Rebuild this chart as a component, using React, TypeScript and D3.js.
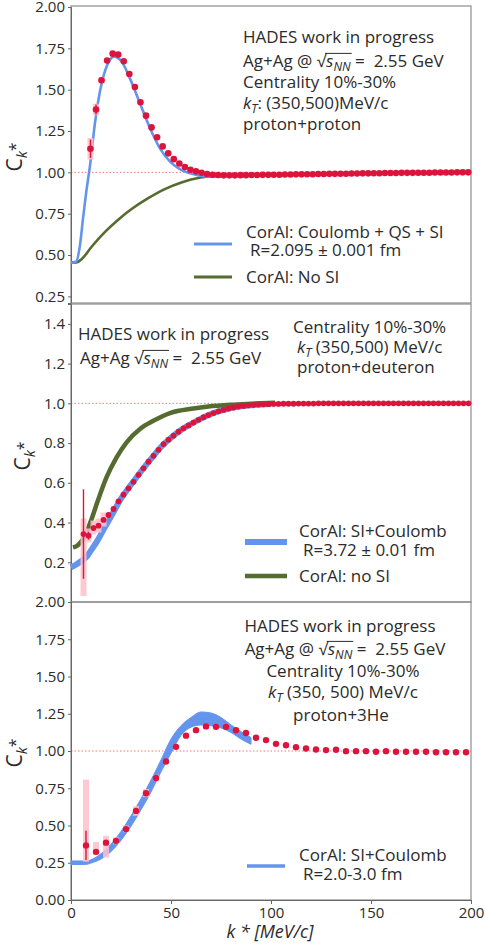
import * as d3 from "d3";
import { useEffect, useRef } from "react";

const W = 485;
const H = 946;
const FONT = "'Open Sans', 'Noto Sans', 'DejaVu Sans', sans-serif";
const RED = "#dc143c";
const BLUE = "#6495ed";
const GREEN = "#556b2f";
const PINK = "#ffbfca";
const INK = "#2b2b2b";
const TXT = 17;

const kTicks = [0, 50, 100, 150, 200];

// ---- proton+proton (bins of 200/72 MeV/c, first filled bin is #3)
const ppBinWidth = 200 / 72;
const ppFirstBin = 3;
const ppC = [
  1.143, 1.38, 1.557, 1.676, 1.718, 1.712, 1.672, 1.595, 1.516, 1.424,
  1.343, 1.272, 1.212, 1.157, 1.115, 1.08, 1.054, 1.032, 1.016, 1.006,
  0.998, 0.99, 0.986, 0.984, 0.982, 0.982, 0.982, 0.983, 0.983, 0.984,
  0.984, 0.985, 0.985, 0.986, 0.986, 0.987, 0.987, 0.988, 0.988, 0.989,
  0.989, 0.99, 0.99, 0.991, 0.991, 0.992, 0.992, 0.993, 0.993, 0.994,
  0.994, 0.995, 0.995, 0.996, 0.996, 0.996, 0.997, 0.997, 0.997, 0.998,
  0.998, 0.998, 0.999, 0.999, 0.999, 0.999, 1.0, 1.0, 1.0,
];
const ppStat = [0.055, 0.03, 0.02, 0.015];
const ppSys = [0.065, 0.035, 0.02];
const ppBlueK = [0, 2.5, 4.5, 6, 7.5, 9.5, 12, 14.5, 17.8, 21.6, 25.3, 29.4, 34.4, 39.4, 44.4, 49.4, 54.4, 60.9, 67.8, 80, 100];
const ppBlueC = [0.455, 0.46, 0.56, 0.72, 0.87, 1.04, 1.3, 1.49, 1.64, 1.7, 1.67, 1.57, 1.42, 1.27, 1.147, 1.067, 1.02, 0.99, 0.976, 0.978, 0.985];
const ppGreenK = [0, 2.8, 5.3, 10.3, 17, 23.6, 30.3, 38.6, 46.9, 55.2, 63.5, 70.2, 85, 100];
const ppGreenC = [0.455, 0.455, 0.475, 0.55, 0.64, 0.714, 0.778, 0.844, 0.899, 0.939, 0.966, 0.976, 0.985, 0.99];

// ---- proton+deuteron (bins of 2.5 MeV/c)
const pdBinWidth = 2.5;
const pdFirstCenter = 6.25;
const pdC = [
  0.342, 0.334, 0.372, 0.384, 0.413, 0.438, 0.468, 0.507, 0.54, 0.572,
  0.605, 0.64, 0.673, 0.706, 0.736, 0.766, 0.795, 0.817, 0.837, 0.857,
  0.874, 0.889, 0.903, 0.917, 0.93, 0.941, 0.951, 0.96, 0.967, 0.974,
  0.979, 0.984, 0.987, 0.99, 0.992, 0.994, 0.995, 0.996, 0.997, 0.997,
  0.998, 0.998, 0.998, 0.999, 0.999, 0.999, 0.999, 1.0, 1.0, 1.0,
  1.0, 1.0, 1.0, 1.0, 1.0, 1.0, 1.0, 1.0, 1.0, 1.0,
  1.0, 1.0, 1.0, 1.0, 1.0, 1.0, 1.0, 1.0, 1.0, 1.0,
  1.0, 1.0, 1.0, 1.0, 1.0, 1.0, 1.0, 1.0,
];
const pdStat = [0.225, 0.02, 0.015, 0.012];
const pdSysLo = [0.03, 0.3, 0.34, 0.35, 0.38];
const pdSysHi = [0.42, 0.37, 0.41, 0.42, 0.45];
const pdBlueK = [0, 2, 5, 8, 10, 13, 16, 20, 25, 30, 35, 40, 45, 50, 55, 60, 65, 70, 75, 80, 85, 90, 95, 100];
const pdBlueC = [0.175, 0.185, 0.205, 0.23, 0.26, 0.305, 0.36, 0.43, 0.52, 0.59, 0.657, 0.72, 0.78, 0.827, 0.866, 0.896, 0.923, 0.946, 0.963, 0.976, 0.985, 0.99, 0.994, 0.997];
const pdGreenK = [1, 3, 7, 10.3, 13.7, 17.8, 22.8, 27.8, 34.5, 41.2, 49.5, 61.2, 68.7, 80, 90, 102];
const pdGreenC = [0.275, 0.283, 0.334, 0.418, 0.518, 0.628, 0.728, 0.804, 0.871, 0.912, 0.951, 0.974, 0.984, 0.993, 0.998, 1.003];

// ---- proton+3He (bins of 5 MeV/c)
const heBinWidth = 5;
const heFirstCenter = 7.5;
const heC = [
  0.366, 0.323, 0.385, 0.397, 0.476, 0.598, 0.716, 0.819, 0.93, 1.028,
  1.103, 1.14, 1.165, 1.162, 1.162, 1.139, 1.121, 1.089, 1.073, 1.048,
  1.039, 1.026, 1.017, 1.01, 1.006, 1.008, 0.999, 0.999, 0.999, 0.995,
  0.999, 0.995, 0.995, 0.995, 0.995, 0.992, 0.992, 0.992, 0.992,
];
const heStat = [0.098, 0.015, 0.015, 0.012];
const heSysLo = [0.257, 0.303, 0.285, 0.375, 0.455, 0.565, 0.69, 0.8];
const heSysHi = [0.808, 0.389, 0.431, 0.42, 0.5, 0.63, 0.745, 0.84];
const heBandK = [0, 5, 8, 10, 15, 20, 25, 30, 35, 40, 45, 50, 55, 60, 65, 70, 75, 80, 85, 90];
const heBandHi = [0.262, 0.262, 0.262, 0.27, 0.31, 0.375, 0.46, 0.565, 0.68, 0.805, 0.94, 1.08, 1.17, 1.225, 1.262, 1.255, 1.225, 1.175, 1.13, 1.09];
const heBandLo = [0.238, 0.238, 0.24, 0.248, 0.275, 0.325, 0.4, 0.495, 0.605, 0.725, 0.86, 0.985, 1.105, 1.16, 1.175, 1.17, 1.155, 1.125, 1.08, 1.045];

type Part = { t: string; it?: boolean; shift?: number; scale?: number; rad?: boolean };
type Sel = d3.Selection<any, unknown, null, undefined>;

function rich(g: Sel, x: number, y: number, parts: Part[], size = TXT, anchor = "start") {
  const text = g
    .append("text")
    .attr("x", x)
    .attr("y", y)
    .attr("text-anchor", anchor)
    .attr("fill", INK)
    .style("font-size", `${size}px`)
    .style("white-space", "pre");
  let cur = 0;
  parts.forEach((p) => {
    const target = (p.shift || 0) * size;
    const span = text.append("tspan").attr("dy", target - cur).text(p.t);
    cur = target;
    if (p.it) span.style("font-style", "italic");
    if (p.scale) span.style("font-size", `${size * p.scale}px`);
    if (p.rad) span.classed("rad", true);
  });
  // overline for the square root
  const rads = text.selectAll<SVGTSpanElement, unknown>("tspan.rad").nodes();
  if (rads.length) {
    const a = rads[0];
    const b = rads[rads.length - 1];
    const x0 = a.getStartPositionOfChar(0).x;
    const x1 = b.getEndPositionOfChar(b.getNumberOfChars() - 1).x;
    g.append("line")
      .attr("x1", x0 - 1)
      .attr("x2", x1 + 1)
      .attr("y1", y - size * 0.8)
      .attr("y2", y - size * 0.8)
      .attr("stroke", INK)
      .attr("stroke-width", 1);
  }
  return text;
}

const sqrtLine = (prefix: string): Part[] => [
  { t: prefix },
  { t: "√" },
  { t: "s", it: true, rad: true },
  { t: "NN", it: true, shift: 0.25, scale: 0.72, rad: true },
  { t: " =  2.55 GeV", shift: 0 },
];
const kT = (rest: string): Part[] => [
  { t: "k", it: true },
  { t: "T", it: true, shift: 0.25, scale: 0.72 },
  { t: rest, shift: 0 },
];

const x = d3.scaleLinear().domain([0, 200]).range([71, 471]);

interface PanelSpec {
  y: d3.ScaleLinear<number, number>;
  top: number;
  bottom: number;
  ticks: number[];
  fmt: string;
  label: [number, number];
}

function drawPanel(svg: Sel, p: PanelSpec) {
  const g = svg.append("g");
  // reference line at 1
  g.append("line")
    .attr("x1", x(0))
    .attr("x2", x(200))
    .attr("y1", p.y(1))
    .attr("y2", p.y(1))
    .attr("stroke", "#f27a7a")
    .attr("stroke-width", 1)
    .attr("stroke-dasharray", "1.5,2");

  // frame
  g.append("rect")
    .attr("x", x(0))
    .attr("y", p.top)
    .attr("width", x(200) - x(0))
    .attr("height", p.bottom - p.top)
    .attr("fill", "none")
    .attr("stroke", "#8c8c8c")
    .attr("stroke-width", 1.2);

  const ax = g
    .append("g")
    .attr("transform", `translate(${x(0)},0)`)
    .call(d3.axisLeft(p.y).tickValues(p.ticks).tickFormat(d3.format(p.fmt)).tickSize(3).tickPadding(3));
  ax.select(".domain").attr("stroke", "#666");
  ax.selectAll("line").attr("stroke", "#666");
  ax.selectAll("text").attr("fill", INK).style("font-size", "15px").style("font-family", FONT);

  // y label
  const lab = svg.append("g").attr("transform", `translate(${p.label[0]},${p.label[1]}) rotate(-90)`);
  rich(
    lab,
    0,
    6,
    [
      { t: "C" },
      { t: "k", it: true, shift: 0.22, scale: 0.7 },
      { t: "*", shift: -0.05, scale: 0.75 },
    ],
    21,
    "middle"
  );
  return g;
}

function drawData(
  g: Sel,
  y: d3.ScaleLinear<number, number>,
  k: number[],
  c: number[],
  stat: number[],
  sysLo: number[],
  sysHi: number[],
  r: number
) {
  const boxes = sysLo.map((lo, i) => ({ k: k[i], lo, hi: sysHi[i] }));
  g.append("g")
    .selectAll("rect")
    .data(boxes)
    .join("rect")
    .attr("x", (d) => x(d.k) - 3)
    .attr("width", 6)
    .attr("y", (d) => y(d.hi))
    .attr("height", (d) => y(d.lo) - y(d.hi))
    .attr("fill", PINK)
    .attr("opacity", 0.85);
  g.append("g")
    .selectAll("line")
    .data(stat.map((e, i) => ({ k: k[i], v: c[i], e })))
    .join("line")
    .attr("x1", (d) => x(d.k))
    .attr("x2", (d) => x(d.k))
    .attr("y1", (d) => y(d.v - d.e))
    .attr("y2", (d) => y(d.v + d.e))
    .attr("stroke", RED)
    .attr("stroke-width", 1.4);
  g.append("g")
    .selectAll("circle")
    .data(c.map((v, i) => ({ k: k[i], v })))
    .join("circle")
    .attr("cx", (d) => x(d.k))
    .attr("cy", (d) => y(d.v))
    .attr("r", r)
    .attr("fill", RED);
}

function curve(g: Sel, y: d3.ScaleLinear<number, number>, k: number[], c: number[], color: string, width: number) {
  const line = d3
    .line<number>()
    .x((_, i) => x(k[i]))
    .y((v) => y(v))
    .curve(d3.curveMonotoneX);
  g.append("path").attr("d", line(c)).attr("fill", "none").attr("stroke", color).attr("stroke-width", width);
}

function legendLine(g: Sel, x1: number, x2: number, yy: number, color: string, width: number) {
  g.append("line").attr("x1", x1).attr("x2", x2).attr("y1", yy).attr("y2", yy).attr("stroke", color).attr("stroke-width", width);
}

function draw(svg: Sel) {
  svg.append("rect").attr("width", W).attr("height", H).attr("fill", "#fff");

  // ===== panel 1 : p+p
  const y1 = d3.scaleLinear().domain([0.21, 2.0]).range([303, 7]);
  const g1 = drawPanel(svg, { y: y1, top: 6, bottom: 303, ticks: [0.25, 0.5, 0.75, 1, 1.25, 1.5, 1.75, 2], fmt: ".2f", label: [16, 157] });
  curve(g1, y1, ppGreenK, ppGreenC, GREEN, 2.6);
  curve(g1, y1, ppBlueK, ppBlueC, BLUE, 2.6);
  const ppK = ppC.map((_, i) => (i + ppFirstBin + 0.5) * ppBinWidth);
  drawData(
    g1,
    y1,
    ppK,
    ppC,
    ppStat,
    ppSys.map((s, i) => ppC[i] - s),
    ppSys.map((s, i) => ppC[i] + s),
    3.3
  );
  rich(g1, 243, 43, [{ t: "HADES work in progress" }]);
  rich(g1, 243, 67, sqrtLine("Ag+Ag @ "));
  rich(g1, 243, 88, [{ t: "Centrality 10%-30%" }]);
  rich(g1, 243, 109, kT(": (350,500)MeV/c"));
  rich(g1, 243, 130, [{ t: "proton+proton" }]);
  legendLine(g1, 194, 232, 244, BLUE, 3);
  rich(g1, 246, 238, [{ t: "CorAl: Coulomb + QS + SI" }]);
  rich(g1, 250, 256, [{ t: "R=2.095 ± 0.001 fm" }]);
  legendLine(g1, 194, 232, 277, GREEN, 3);
  rich(g1, 246, 283, [{ t: "CorAl: No SI" }]);

  // ===== panel 2 : p+d
  const y2 = d3.scaleLinear().domain([0, 1.5]).range([602, 304]);
  const g2 = drawPanel(svg, { y: y2, top: 304, bottom: 602, ticks: [0.2, 0.4, 0.6, 0.8, 1.0, 1.2, 1.4], fmt: ".1f", label: [24, 456] });
  curve(g2, y2, pdBlueK, pdBlueC, BLUE, 6);
  curve(g2, y2, pdGreenK, pdGreenC, GREEN, 4.5);
  const pdK = pdC.map((_, i) => pdFirstCenter + i * pdBinWidth);
  drawData(g2, y2, pdK, pdC, pdStat, pdSysLo, pdSysHi, 2.9);
  rich(g2, 78, 340, [{ t: "HADES work in progress" }]);
  rich(g2, 80, 364, sqrtLine("Ag+Ag "));
  rich(g2, 293, 333, [{ t: "Centrality 10%-30%" }]);
  rich(g2, 297, 353, kT(" (350,500) MeV/c"));
  rich(g2, 297, 373, [{ t: "proton+deuteron" }]);
  legendLine(g2, 245, 287, 542, BLUE, 6);
  rich(g2, 299, 537, [{ t: "CorAl: SI+Coulomb" }]);
  rich(g2, 303, 556, [{ t: "R=3.72 ± 0.01 fm" }]);
  legendLine(g2, 245, 287, 576, GREEN, 4.5);
  rich(g2, 299, 582, [{ t: "CorAl: no SI" }]);

  // ===== panel 3 : p+3He
  const y3 = d3.scaleLinear().domain([0, 2]).range([900, 602]);
  const g3 = drawPanel(svg, { y: y3, top: 602, bottom: 900, ticks: [0, 0.25, 0.5, 0.75, 1, 1.25, 1.5, 1.75, 2], fmt: ".2f", label: [16, 753] });
  const band = d3
    .area<number>()
    .x((_, i) => x(heBandK[i]))
    .y0((_, i) => y3(heBandLo[i]))
    .y1((v) => y3(v))
    .curve(d3.curveMonotoneX);
  g3.append("path").attr("d", band(heBandHi)).attr("fill", BLUE).attr("stroke", BLUE).attr("stroke-width", 1);
  const heK = heC.map((_, i) => heFirstCenter + i * heBinWidth);
  drawData(g3, y3, heK, heC, heStat, heSysLo, heSysHi, 3.2);
  rich(g3, 340, 632, [{ t: "HADES work in progress" }], TXT, "middle");
  rich(g3, 345, 655, sqrtLine("Ag+Ag @ "), TXT, "middle");
  rich(g3, 343, 677, [{ t: "Centrality 10%-30%" }], TXT, "middle");
  rich(g3, 343, 698, kT(" (350, 500) MeV/c"), TXT, "middle");
  rich(g3, 341, 721, [{ t: "proton+3He" }], TXT, "middle");
  legendLine(g3, 247, 285, 866, BLUE, 3.5);
  rich(g3, 299, 861, [{ t: "CorAl: SI+Coulomb" }]);
  rich(g3, 303, 880, [{ t: "R=2.0-3.0 fm" }]);

  // x axis
  const xa = g3
    .append("g")
    .attr("transform", `translate(0,900)`)
    .call(d3.axisBottom(x).tickValues(kTicks).tickFormat(d3.format("d")).tickSize(4).tickPadding(3));
  xa.select(".domain").attr("stroke", "#666");
  xa.selectAll("line").attr("stroke", "#666");
  xa.selectAll("text").attr("fill", INK).style("font-size", "15px").style("font-family", FONT);
  svg
    .append("text")
    .attr("x", 270)
    .attr("y", 938)
    .attr("text-anchor", "middle")
    .attr("fill", INK)
    .style("font-size", "18px")
    .style("font-style", "italic")
    .text("k * [MeV/c]");
}

export default function App() {
  const ref = useRef<SVGSVGElement>(null);
  useEffect(() => {
    const svg = d3.select(ref.current);
    svg.selectAll("*").remove();
    draw(svg as unknown as Sel);
  }, []);
  return (
    <svg
      ref={ref}
      width={W}
      height={H}
      style={{ position: "absolute", left: 0, top: 0, fontFamily: FONT, background: "#fff" }}
    />
  );
}
